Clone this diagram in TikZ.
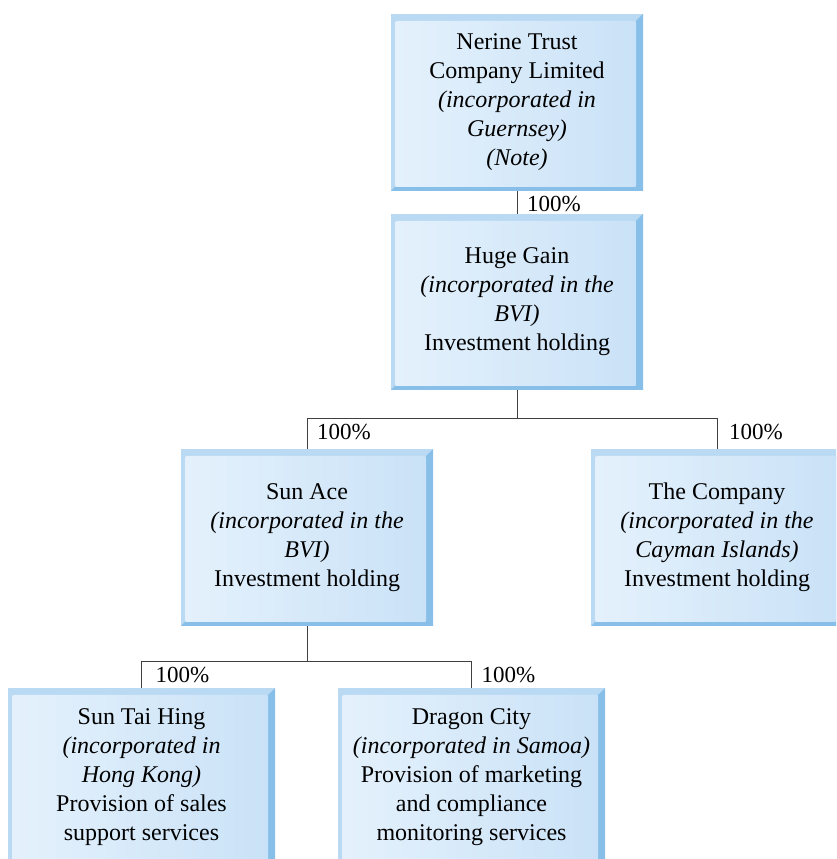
\documentclass[tikz,border=0pt]{standalone}
\usepackage{fontspec}
\setmainfont{Liberation Serif}
\usetikzlibrary{positioning}
\usetikzlibrary{shapes}

\definecolor{framelight}{HTML}{BADAF4}
\definecolor{framedark}{HTML}{88BFE9}
\definecolor{innerleft}{HTML}{E4F1FC}
\definecolor{innerright}{HTML}{CAE2F7}

\tikzset{
	entity/.style={rectangle, minimum width=252, minimum height=177, inner sep=0, align=center,
		font=\fontsize{24}{29}\selectfont,
		path picture={
			\fill[framelight] (path picture bounding box.south west) rectangle (path picture bounding box.north east);
			\fill[framedark] (path picture bounding box.north east) -- (path picture bounding box.south east)
				-- (path picture bounding box.south west) -- ([xshift=4pt,yshift=4pt]path picture bounding box.south west)
				-- ([xshift=-7pt,yshift=4pt]path picture bounding box.south east) -- ([xshift=-7pt,yshift=-7pt]path picture bounding box.north east) -- cycle;
			\shade[left color=innerleft, right color=innerright, rounded corners=2pt]
				([xshift=4pt,yshift=4pt]path picture bounding box.south west) rectangle ([xshift=-7pt,yshift=-7pt]path picture bounding box.north east);
		}},
	share/.style={font=\fontsize{23}{27}\selectfont, inner sep=0},
	link/.style={draw=black!75, line width=1pt}
}

\begin{document}
\begin{tikzpicture}[x=1pt,y=1pt]
	\useasboundingbox (0,0) rectangle (836,859);
	\clip (0,0) rectangle (836,859);
	% owners
	\node[entity] (nerine) at (517,756.5) {Nerine Trust\\Company Limited\\\textit{(incorporated in}\\\textit{Guernsey)}\\\textit{(Note)}};
	\node[entity, minimum height=176] (huge) at (517,557) {Huge Gain\\\textit{(incorporated in the}\\\textit{BVI)}\\Investment holding};
	% subsidiaries
	\node[entity] (sunace) at (307,321.5) {Sun Ace\\\textit{(incorporated in the}\\\textit{BVI)}\\Investment holding};
	\node[entity] (company) at (717,321.5) {The Company\\\textit{(incorporated in the}\\\textit{Cayman Islands)}\\Investment holding};
	\node[entity, minimum width=267, minimum height=178] (sth) at (141.5,82) {Sun Tai Hing\\\textit{(incorporated in}\\\textit{Hong Kong)}\\Provision of sales\\support services};
	\node[entity, minimum width=267, minimum height=178] (dragon) at (471.5,82) {Dragon City\\\textit{(incorporated in Samoa)}\\Provision of marketing\\and compliance\\monitoring services};

	\draw[link] (nerine.south) -- (huge.north);
	\node[share, anchor=west] (p1) at ([xshift=10pt,yshift=-13pt]nerine.south) {100\%};

	\coordinate (hbar) at ([yshift=-28pt]huge.south);
	\draw[link] (huge.south) -- (hbar);
	\draw[link] (hbar) -| (sunace.north);
	\draw[link] (hbar) -| (company.north);
	\node[share, anchor=north west] (p2) at ([xshift=10pt,yshift=-6pt]sunace.north |- hbar) {100\%};
	\node[share, anchor=north west] (p3) at ([xshift=12pt,yshift=-6pt]company.north |- hbar) {100\%};

	\coordinate (sbar) at ([yshift=-35pt]sunace.south);
	\draw[link] (sunace.south) -- (sbar);
	\draw[link] (sbar) -| (sth.north);
	\draw[link] (sbar) -| (dragon.north);
	\node[share, anchor=north west] (p4) at ([xshift=14pt,yshift=-6pt]sth.north |- sbar) {100\%};
	\node[share, anchor=north west] (p5) at ([xshift=10pt,yshift=-6pt]dragon.north |- sbar) {100\%};
\end{tikzpicture}
\end{document}
